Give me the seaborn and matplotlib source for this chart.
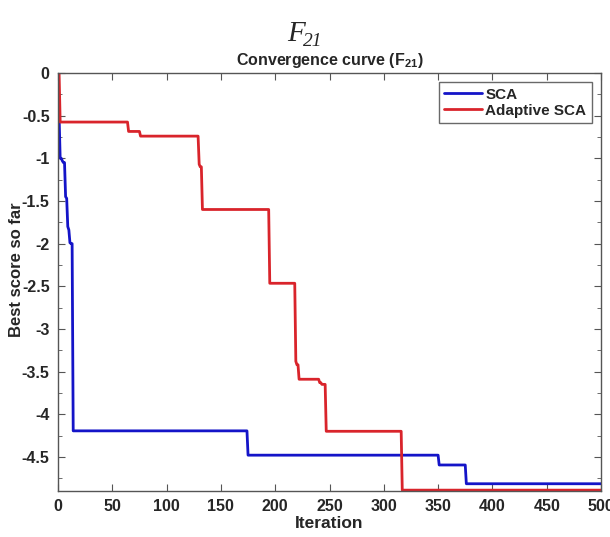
import numpy as np
import pandas as pd
import matplotlib
matplotlib.use("Agg")
import matplotlib.pyplot as plt
from matplotlib.ticker import FuncFormatter, MultipleLocator
import seaborn as sns

# ---- data (step breakpoints) ----
n_iter = 500
sca_start_iters = [1, 2, 4, 5, 7, 8, 9, 10, 11, 12, 14, 175, 351, 376]
sca_values = [-0.5, -1.0, -1.03, -1.05, -1.45, -1.47, -1.8, -1.84, -1.99, -2.0,
              -4.195, -4.48, -4.595, -4.815]
asca_start_iters = [1, 2, 65, 76, 130, 131, 133, 195, 219, 220, 222, 241, 243, 247, 317]
asca_values = [0.0, -0.575, -0.685, -0.74, -1.07, -1.1, -1.6, -2.465, -3.38, -3.42,
               -3.59, -3.63, -3.65, -4.2, -4.89]
series_names = ["SCA", "Adaptive SCA"]
x_ticks = list(range(0, 501, 50))
y_ticks = [0, -0.5, -1, -1.5, -2, -2.5, -3, -3.5, -4, -4.5]


def expand(starts, vals, n):
    out = np.empty(n)
    bounds = list(starts) + [n + 1]
    for i, v in enumerate(vals):
        out[bounds[i] - 1:bounds[i + 1] - 1] = v
    return out


iters = np.arange(1, n_iter + 1)
df = pd.concat([
    pd.DataFrame({"Iteration": iters, "score": expand(sca_start_iters, sca_values, n_iter),
                  "alg": series_names[0]}),
    pd.DataFrame({"Iteration": iters, "score": expand(asca_start_iters, asca_values, n_iter),
                  "alg": series_names[1]}),
])

sns.set_style("white")
plt.rcParams["font.family"] = ["Liberation Sans", "DejaVu Sans"]
plt.rcParams["mathtext.fontset"] = "custom"
plt.rcParams["mathtext.rm"] = "Liberation Sans:bold"
plt.rcParams["mathtext.bf"] = "Liberation Sans:bold"

fig = plt.figure(figsize=(6.10, 5.37), dpi=100)
ax = fig.add_axes([58 / 610, 1 - 491 / 537, (601 - 58) / 610, (491 - 73) / 537])

palette = {"SCA": "#1414C8", "Adaptive SCA": "#D9242B"}
sns.lineplot(data=df, x="Iteration", y="score", hue="alg", palette=palette,
             linewidth=2.0, ax=ax, legend=True)

ax.set_xlim(0, 500)
ax.set_ylim(-4.9, 0)
ax.set_xticks(x_ticks)
ax.set_yticks(y_ticks)
ax.yaxis.set_minor_locator(MultipleLocator(0.25))
fmt = FuncFormatter(lambda v, p: ("%g" % v).replace("\u2212", "-"))
ax.xaxis.set_major_formatter(fmt)
ax.yaxis.set_major_formatter(fmt)

edge = "#555555"
for s in ax.spines.values():
    s.set_color(edge)
    s.set_linewidth(1.0)
ax.tick_params(which="both", direction="in", top=True, right=True, bottom=True, left=True,
               color=edge, labelsize=11.5, pad=6)
ax.tick_params(which="major", length=5)
ax.tick_params(which="minor", length=3)
for lab in ax.get_xticklabels() + ax.get_yticklabels():
    lab.set_fontweight("bold")

ax.set_xlabel("Iteration", fontsize=12.5, fontweight="bold", labelpad=1)
ax.set_ylabel("Best score so far", fontsize=12, fontweight="bold")
ax.yaxis.set_label_coords(-0.063, 0.53)
ax.set_title(r"Convergence curve (F$_{\mathbf{21}}$)", fontsize=11.5, fontweight="bold", pad=6)

leg = ax.legend(loc="upper right", frameon=True, fancybox=False, fontsize=11,
                handlelength=2.5, handletextpad=0.2, borderpad=0.35, labelspacing=0.15,
                borderaxespad=0.6)
leg.get_frame().set_edgecolor("#444444")
leg.get_frame().set_linewidth(1.0)
for t in leg.get_texts():
    t.set_fontweight("bold")

# Figure heading "F21" in italic serif with subscript
fig.text(296 / 610, 1 - 34 / 537, "F", ha="center", va="center", fontsize=21,
         family="Liberation Serif", style="italic")
fig.text(303 / 610, 1 - 41 / 537, "21", ha="left", va="center", fontsize=14,
         family="Liberation Serif", style="italic")

fig.savefig("out.png", dpi=100, facecolor="white")
